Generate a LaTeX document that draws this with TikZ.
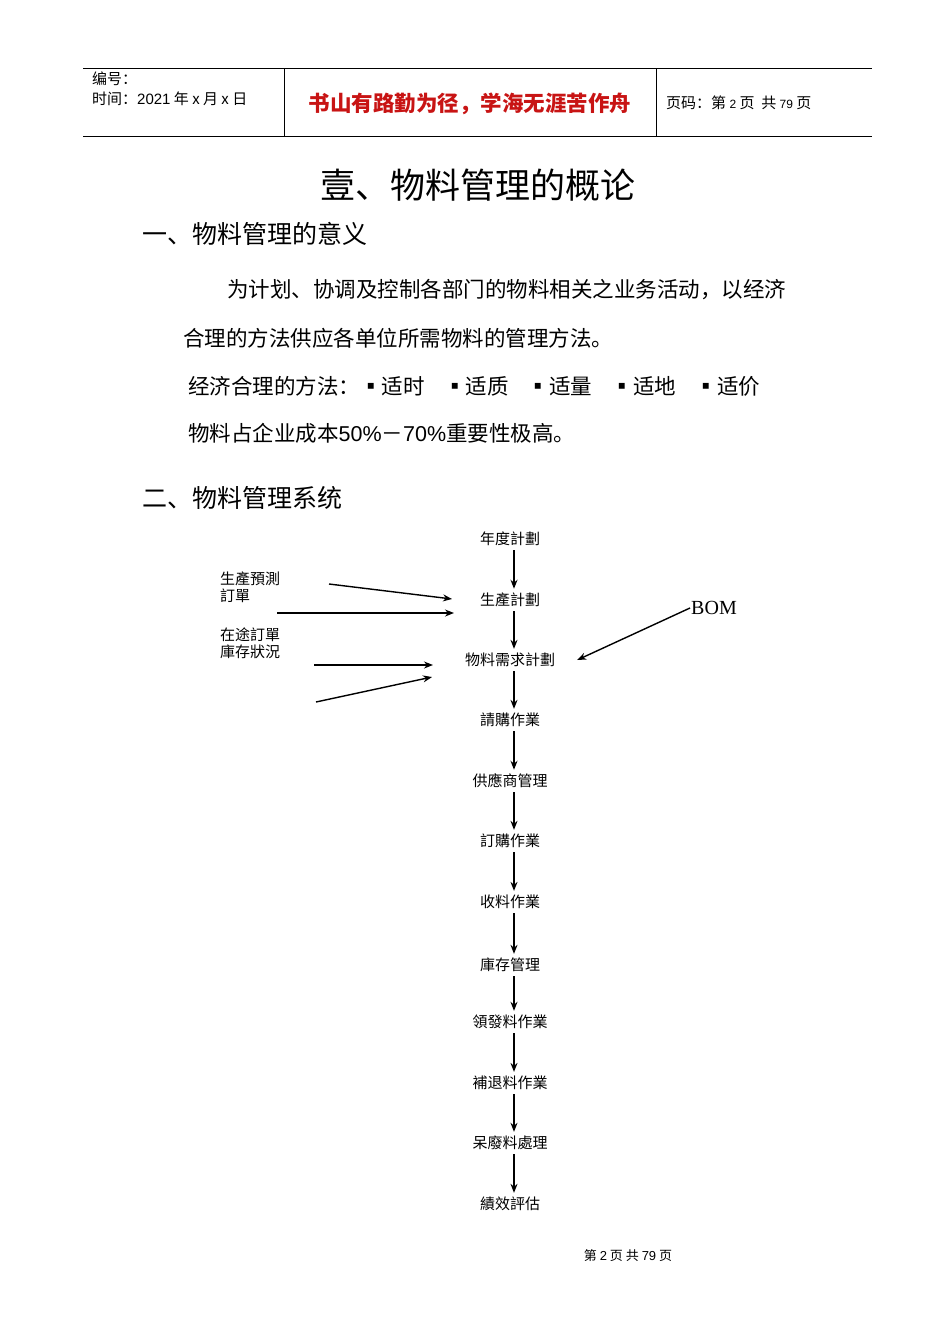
\documentclass[tikz,border=0pt]{standalone}
\usepackage{fontspec}
\setmainfont{Liberation Serif}
\newfontfamily\cjk{Noto Sans CJK SC}
\newfontfamily\sans{Liberation Sans}
\usetikzlibrary{arrows.meta}
\definecolor{redtxt}{RGB}{200,20,20}
\begin{document}
\begin{tikzpicture}[x=1pt,y=-1pt,
  flow/.style={font=\cjk\fontsize{15}{17}\selectfont,inner sep=2pt},
  side/.style={font=\cjk\fontsize{15}{17.5}\selectfont,anchor=west,inner sep=0pt,align=left},
  body/.style={font=\cjk\fontsize{21.5}{24}\selectfont,anchor=west,inner sep=0pt},
  arr/.style={-{Stealth[length=9pt,width=7pt]},line width=1.4pt},
  hdr/.style={font=\cjk\fontsize{15}{17}\selectfont,anchor=west,inner sep=0pt}]
\useasboundingbox (0,0) rectangle (950,1344);
% header
\draw[line width=0.6pt] (83,68) -- (872,68) (83,136) -- (872,136) (284,68) -- (284,136) (656,68) -- (656,136);
\node[hdr] (h1) at (92,79) {编号：};
\node[hdr] (h2) at (92,99) {时间：{\sans 2021} 年 x 月 x 日};
\node[font=\cjk\bfseries\fontsize{21.5}{24}\selectfont,text=redtxt] (h3) at (470,104) {书山有路勤为径，学海无涯苦作舟};
\node[hdr] (h4) at (666,103) {页码：第 {\sans\fontsize{12}{14}\selectfont 2} 页 \ 共 {\sans\fontsize{12}{14}\selectfont 79} 页};
% titles
\node[font=\cjk\fontsize{35}{38}\selectfont] (t) at (478,185) {壹、物料管理的概论};
\node[body,font=\cjk\fontsize{25}{28}\selectfont] (s1) at (142,234) {一、物料管理的意义};
\node[body] (p1) at (227,290) {为计划、协调及控制各部门的物料相关之业务活动，以经济};
\node[body] (p2) at (183,338) {合理的方法供应各单位所需物料的管理方法。};
\node[body] (p3) at (188,386) {经济合理的方法：▪适时\hspace{0.9em}▪适质\hspace{0.9em}▪适量\hspace{0.9em}▪适地\hspace{0.9em}▪适价};
\node[body] (p4) at (188,433) {物料占企业成本{\sans 50\%}－{\sans 70\%}重要性极高。};
\node[body,font=\cjk\fontsize{25}{28}\selectfont] (s2) at (142,498) {二、物料管理系统};
% flow
\foreach \n/\y/\t in {f1/539/年度計劃,f2/600/生產計劃,f3/660/物料需求計劃,f4/720/請購作業,f5/781/供應商管理,f6/841/訂購作業,f7/902/收料作業,f8/965/庫存管理,f9/1022/領發料作業,f10/1083/補退料作業,f11/1143/呆廢料處理,f12/1204/績效評估}
  \node[flow] (\n) at (510,\y) {\t};
\foreach \a/\b in {f1/f2,f2/f3,f3/f4,f4/f5,f5/f6,f6/f7,f7/f8,f8/f9,f9/f10,f10/f11,f11/f12}
  \draw[arr] ([xshift=4pt,yshift=-2pt]\a.south) -- ([xshift=4pt,yshift=2pt]\b.north);
% side inputs
\node[side] (l1) at (220,587) {生產預測\\訂單};
\node[side] (l2) at (220,643) {在途訂單\\庫存狀況};
\coordinate (c1) at (329,584);
\coordinate (c2) at (277,613);
\coordinate (c3) at (314,665);
\coordinate (c4) at (316,702);
\coordinate (e1) at (452,599);
\coordinate (e2) at (454,613);
\coordinate (e3) at (433,665);
\coordinate (e4) at (432,677);
\draw[arr] (c1) -- (e1);
\draw[arr] (c2) -- (e2);
\draw[arr] (c3) -- (e3);
\draw[arr] (c4) -- (e4);
\node[font=\fontsize{20}{22}\selectfont,inner sep=1pt] (bom) at (714,608) {BOM};
\draw[arr] (bom.west) -- ([xshift=20pt]f3.east);
% footer
\node[font=\cjk\fontsize{13}{15}\selectfont] (ft) at (628,1256) {第 {\sans 2} 页 共 {\sans 79} 页};
\end{tikzpicture}
\end{document}
